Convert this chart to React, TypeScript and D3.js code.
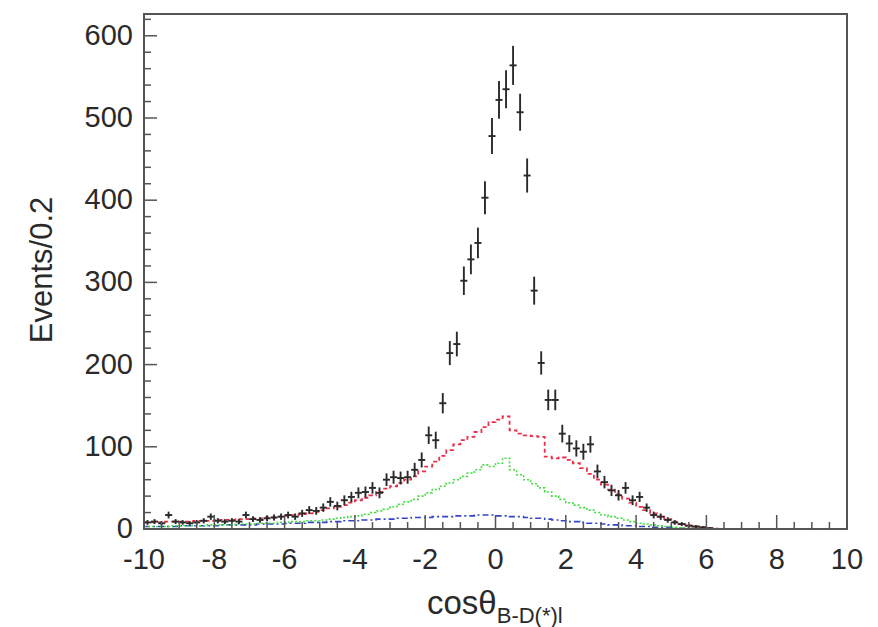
import React from "react";
import * as d3 from "d3";

const W = 878;
const H = 627;

// bin centres: -9.9 .. 9.9 (width 0.2)
const binWidth = 0.2;
const xMin = -10;
const xMax = 10;

// observed data (black points with error bars), bins from -9.9 to 6.1
const dataValues = [
  8, 9, 7, 17, 9, 8, 7, 8, 10, 15,
  10, 9, 10, 9, 17, 12, 11, 13, 14, 15,
  17, 15, 19, 23, 22, 26, 33, 28, 35, 39,
  44, 45, 50, 44, 60, 63, 62, 63, 72, 84,
  114, 108, 153, 214, 225, 302, 328, 348, 403, 478,
  522, 535, 564, 507, 430, 290, 202, 157, 157, 116,
  104, 98, 94, 103, 70, 57, 47, 41, 50, 35,
  39, 26, 17, 15, 11, 8, 6, 4, 3, 2,
  1,
];

// red dashed component
const redValues = [
  8, 8, 8, 9, 9, 9, 9, 10, 10, 10,
  11, 11, 11, 12, 12, 13, 13, 14, 14, 15,
  16, 17, 18, 19, 21, 23, 25, 27, 29, 32,
  35, 38, 41, 45, 49, 52, 56, 60, 64, 70,
  76, 82, 89, 96, 103, 108, 112, 118, 124, 130,
  133, 137, 120, 116, 114, 113, 112, 88, 86, 87,
  84, 80, 74, 67, 60, 54, 48, 42, 37, 32,
  27, 23, 19, 15, 12, 9, 6, 4, 3, 2,
  1, 0.5, 0, 0, 0, 0, 0, 0, 0, 0,
  0, 0, 0, 0, 0, 0, 0, 0, 0, 0,
];

// green dotted component
const greenValues = [
  3, 3, 3, 3, 4, 4, 4, 4, 4, 5,
  5, 5, 5, 6, 6, 6, 7, 7, 7, 8,
  8, 9, 9, 10, 10, 11, 12, 13, 14, 15,
  16, 18, 20, 22, 24, 27, 30, 33, 36, 40,
  44, 48, 52, 56, 60, 64, 68, 72, 78, 76,
  80, 86, 72, 66, 60, 55, 50, 45, 40, 36,
  32, 29, 26, 23, 20, 17, 15, 13, 11, 9,
  7, 6, 5, 4, 3, 2, 1.5, 1, 0.5, 0.3,
  0, 0, 0, 0, 0, 0, 0, 0, 0, 0,
  0, 0, 0, 0, 0, 0, 0, 0, 0, 0,
];

// blue dash-dot component
const blueValues = [
  3, 3, 3, 3, 3, 4, 4, 4, 4, 4,
  4, 5, 5, 5, 5, 5, 6, 6, 6, 6,
  7, 7, 7, 8, 8, 8, 9, 9, 10, 10,
  10, 11, 11, 12, 12, 12, 13, 13, 14, 14,
  14, 15, 15, 15, 16, 16, 16, 17, 17, 17,
  16, 16, 15, 15, 14, 13, 13, 12, 11, 10,
  9, 9, 8, 7, 7, 6, 5, 5, 4, 4,
  3, 3, 2, 2, 2, 1, 1, 1, 0.5, 0.5,
  0, 0, 0, 0, 0, 0, 0, 0, 0, 0,
  0, 0, 0, 0, 0, 0, 0, 0, 0, 0,
];

const xTickValues = [-10, -8, -6, -4, -2, 0, 2, 4, 6, 8, 10];
const yTickValues = [0, 100, 200, 300, 400, 500, 600];

const plot = { left: 144, right: 847, top: 14, bottom: 529 };

export default function App() {
  const x = d3.scaleLinear().domain([xMin, xMax]).range([plot.left, plot.right]);
  const y = d3.scaleLinear().domain([0, 626.5]).range([plot.bottom, plot.top]);

  const stepPath = (vals: number[]) => {
    const pts: [number, number][] = vals.map((v, i) => [xMin + i * binWidth, v]);
    pts.push([xMin + vals.length * binWidth, vals[vals.length - 1]]);
    return d3
      .line<[number, number]>()
      .x((d) => x(d[0]))
      .y((d) => y(d[1]))
      .curve(d3.curveStepAfter)(pts) as string;
  };

  const minorX = d3.range(xMin, xMax + 0.001, 0.5).filter((v) => Math.abs(v / 2 - Math.round(v / 2)) > 1e-6);
  const minorY = d3.range(0, 626, 20).filter((v) => v % 100 !== 0);

  const font = "'Liberation Sans', Arial, Helvetica, sans-serif";
  const axisColor = "#555";
  const textColor = "#2a2a2a";

  return (
    <svg
      width={W}
      height={H}
      style={{ position: "absolute", left: 0, top: 0, background: "#fff" }}
      fontFamily={font}
    >
      <rect x={0} y={0} width={W} height={H} fill="#fff" />

      {/* component histograms */}
      <path d={stepPath(blueValues)} fill="none" stroke="#3344c8" strokeWidth={1.6} strokeDasharray="6,3,2,3" />
      <path d={stepPath(greenValues)} fill="none" stroke="#44dd44" strokeWidth={1.6} strokeDasharray="2,2" />
      <path d={stepPath(redValues)} fill="none" stroke="#e8304a" strokeWidth={1.8} strokeDasharray="4,3" />

      {/* data points */}
      {dataValues.map((v, i) => {
        if (v <= 0) return null;
        const c = xMin + (i + 0.5) * binWidth;
        const e = Math.sqrt(v);
        return (
          <g key={i} stroke="#2a2a2a" strokeWidth={1.9}>
            <line x1={x(c)} x2={x(c)} y1={y(v + e)} y2={y(Math.max(0, v - e))} />
            <line x1={x(c - binWidth / 2)} x2={x(c + binWidth / 2)} y1={y(v)} y2={y(v)} />
          </g>
        );
      })}

      {/* frame */}
      <rect
        x={plot.left}
        y={plot.top}
        width={plot.right - plot.left}
        height={plot.bottom - plot.top}
        fill="none"
        stroke={axisColor}
        strokeWidth={2}
      />

      {/* x ticks */}
      {xTickValues.map((t) => (
        <line key={"xt" + t} x1={x(t)} x2={x(t)} y1={plot.bottom} y2={plot.bottom - 14} stroke={axisColor} strokeWidth={1.5} />
      ))}
      {minorX.map((t) => (
        <line key={"xm" + t} x1={x(t)} x2={x(t)} y1={plot.bottom} y2={plot.bottom - 7} stroke={axisColor} strokeWidth={1.5} />
      ))}
      {xTickValues.map((t) => (
        <text key={"xl" + t} x={x(t)} y={569} textAnchor="middle" fontSize={29} fill={textColor}>
          {t}
        </text>
      ))}

      {/* y ticks */}
      {yTickValues.map((t) => (
        <line key={"yt" + t} x1={plot.left} x2={plot.left + 13} y1={y(t)} y2={y(t)} stroke={axisColor} strokeWidth={1.5} />
      ))}
      {minorY.map((t) => (
        <line key={"ym" + t} x1={plot.left} x2={plot.left + 7} y1={y(t)} y2={y(t)} stroke={axisColor} strokeWidth={1.5} />
      ))}
      {yTickValues.map((t) => (
        <text key={"yl" + t} x={133} y={y(t) + 9} textAnchor="end" fontSize={29} fill={textColor}>
          {t}
        </text>
      ))}

      {/* axis titles */}
      <text
        transform={`translate(52, 270) rotate(-90)`}
        textAnchor="middle"
        fontSize={31}
        fill={textColor}
      >
        Events/0.2
      </text>
      <text x={427} y={614} fontSize={33} fill={textColor}>
        cosθ
        <tspan fontSize={22} dy={9}>B-D(*)l</tspan>
      </text>
    </svg>
  );
}
